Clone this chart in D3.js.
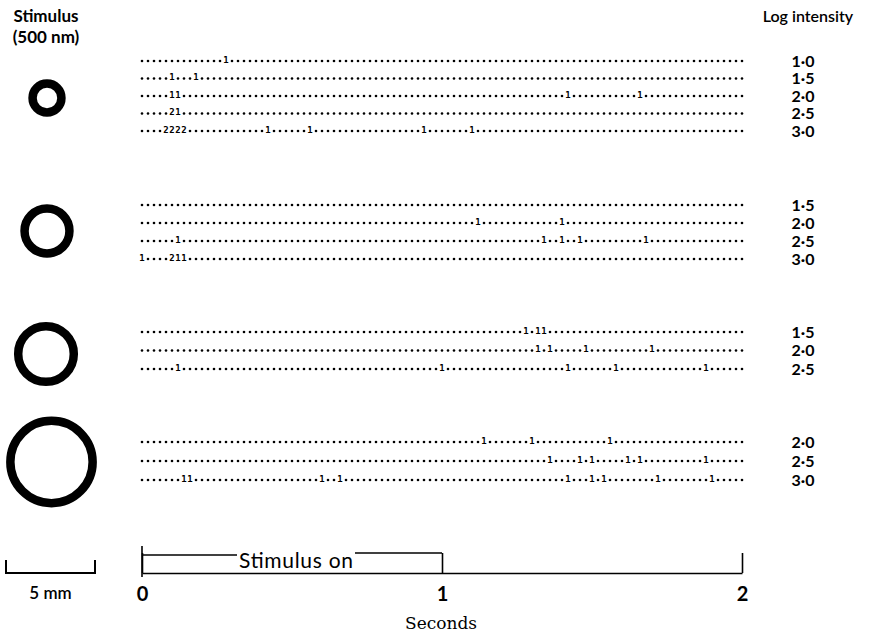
<!DOCTYPE html>
<html>
<head>
<meta charset="utf-8">
<script src="https://cdn.jsdelivr.net/npm/d3@7"></script>
<style>
  body { margin: 0; background: #fff; }
  svg { display: block; }
</style>
</head>
<body>
<svg id="chart" width="878" height="632"></svg>
<script>
// stimulus ring diameters (mm) for each block, top to bottom
var stimulusDiam = [2.1, 3.0, 3.6, 5.1];

// log intensity of each row, per block
var intensities = [
  ["1·0", "1·5", "2·0", "2·5", "3·0"],
  ["1·5", "2·0", "2·5", "3·0"],
  ["1·5", "2·0", "2·5"],
  ["2·0", "2·5", "3·0"]
];

// spikes per 20 ms bin: [bin, count]; every other bin prints as a dot
var block1 = [
  [[14, 1]],
  [[5, 1], [9, 1]],
  [[5, 1], [6, 1], [71, 1], [83, 1]],
  [[5, 2], [6, 1]],
  [[4, 2], [5, 2], [6, 2], [7, 2], [21, 1], [28, 1], [47, 1], [55, 1]]
];
var block2 = [
  [],
  [[56, 1], [70, 1]],
  [[6, 1], [67, 1], [70, 1], [73, 1], [84, 1]],
  [[0, 1], [5, 2], [6, 1], [7, 1]]
];
var block3 = [
  [[64, 1], [66, 1], [67, 1]],
  [[66, 1], [68, 1], [74, 1], [85, 1]],
  [[6, 1], [50, 1], [71, 1], [79, 1], [94, 1]]
];
var block4 = [
  [[57, 1], [65, 1], [78, 1]],
  [[68, 1], [73, 1], [75, 1], [81, 1], [83, 1], [94, 1]],
  [[7, 1], [8, 1], [30, 1], [33, 1], [71, 1], [75, 1], [77, 1], [86, 1], [95, 1]]
];
var blocks = [block1, block2, block3, block4];

var binWidth = 0.02,   // seconds
    nBins = 101,
    stimulusOn = [0, 1],
    timeTicks = [0, 1, 2];

var svg = d3.select("#chart");

var x = d3.scaleLinear().domain([0, 2]).range([142, 742]);
var mm = d3.scaleLinear().domain([0, 5]).range([0, 89]);

var blockTop = [61, 205, 332, 442],
    rowGap = [17.5, 18, 18.5, 19],
    ringCentre = [[47, 98], [47, 231], [46, 354], [51.5, 462]],
    ringStroke = 8.5;

var sans = "Lato, 'Open Sans', sans-serif";

// headings
svg.append("text").attr("x", 46).attr("y", 22).attr("text-anchor", "middle")
  .style("font", "bold 17px " + sans).text("Stimulus");
svg.append("text").attr("x", 46).attr("y", 43).attr("text-anchor", "middle")
  .style("font", "bold 17px " + sans).text("(500 nm)");
svg.append("text").attr("x", 808).attr("y", 22).attr("text-anchor", "middle")
  .style("font", "600 16px " + sans).text("Log intensity");

blocks.forEach(function (rows, b) {
  // stimulus ring
  var rOuter = mm(stimulusDiam[b]) / 2;
  svg.append("circle")
    .attr("cx", ringCentre[b][0])
    .attr("cy", ringCentre[b][1])
    .attr("r", rOuter - ringStroke / 2)
    .attr("fill", "none")
    .attr("stroke", "#000")
    .attr("stroke-width", ringStroke);

  rows.forEach(function (spikes, r) {
    var y = blockTop[b] + r * rowGap[b];
    var counts = {};
    spikes.forEach(function (s) { counts[s[0]] = s[1]; });
    var bins = d3.range(nBins).map(function (i) {
      return { t: i * binWidth, n: counts[i] || 0 };
    });

    var g = svg.append("g").attr("class", "row");

    g.selectAll("circle")
      .data(bins.filter(function (d) { return !d.n; }))
      .enter()
      .append("circle")
        .attr("cx", function (d) { return x(d.t); })
        .attr("cy", y)
        .attr("r", 1.3)
        .attr("fill", "#000");

    g.selectAll("text")
      .data(bins.filter(function (d) { return d.n; }))
      .enter()
      .append("text")
        .attr("x", function (d) { return x(d.t); })
        .attr("y", y + 1.5)
        .attr("text-anchor", "middle")
        .attr("fill", "#000")
        .style("font", "bold 9px 'DejaVu Sans Mono', monospace")
        .text(function (d) { return d.n; });

    svg.append("text")
      .attr("x", 803)
      .attr("y", y)
      .attr("dy", "0.35em")
      .attr("text-anchor", "middle")
      .style("font", "bold 16px " + sans)
      .text(intensities[b][r]);
  });
});

// 5 mm scale bar
var sb = svg.append("g").attr("transform", "translate(6,573)");
sb.append("path")
  .attr("d", "M0,-13V0H" + mm(5) + "V-13")
  .attr("fill", "none").attr("stroke", "#000").attr("stroke-width", 2);
sb.append("text").attr("x", mm(5) / 2).attr("y", 26).attr("text-anchor", "middle")
  .style("font", "600 17px " + sans).text("5 mm");

// time axis
var axis = d3.axisBottom(x)
  .tickValues(timeTicks)
  .tickFormat(d3.format("d"))
  .tickSizeInner(-20)
  .tickSizeOuter(0)
  .tickPadding(14);

var ax = svg.append("g").attr("transform", "translate(0,573)").call(axis);
ax.select(".domain").attr("stroke-width", 1.6);
ax.selectAll(".tick line").attr("stroke-width", 1.6);
ax.selectAll(".tick text")
  .style("font", "bold 20px " + sans)
  .attr("fill", "#000");

// stimulus-on bracket
var yOn = 554,
    gapL = 237, gapR = 355;
svg.append("line")
  .attr("x1", x(stimulusOn[0])).attr("x2", x(stimulusOn[0]))
  .attr("y1", 546).attr("y2", 577)
  .attr("stroke", "#000").attr("stroke-width", 1.6);
svg.append("line")
  .attr("x1", x(stimulusOn[0])).attr("x2", gapL)
  .attr("y1", yOn + 1).attr("y2", yOn + 1)
  .attr("stroke", "#000").attr("stroke-width", 1.6);
svg.append("line")
  .attr("x1", gapR).attr("x2", x(stimulusOn[1]))
  .attr("y1", yOn - 1).attr("y2", yOn - 1)
  .attr("stroke", "#000").attr("stroke-width", 1.6);
svg.append("text")
  .attr("x", (gapL + gapR) / 2).attr("y", 568)
  .attr("text-anchor", "middle")
  .attr("textLength", 114)
  .attr("lengthAdjust", "spacing")
  .style("font", "21px " + sans)
  .text("Stimulus on");

svg.append("text")
  .attr("x", 441).attr("y", 629)
  .attr("text-anchor", "middle")
  .style("font", "17px 'DejaVu Serif', 'Liberation Serif', serif")
  .text("Seconds");
</script>
</body>
</html>
